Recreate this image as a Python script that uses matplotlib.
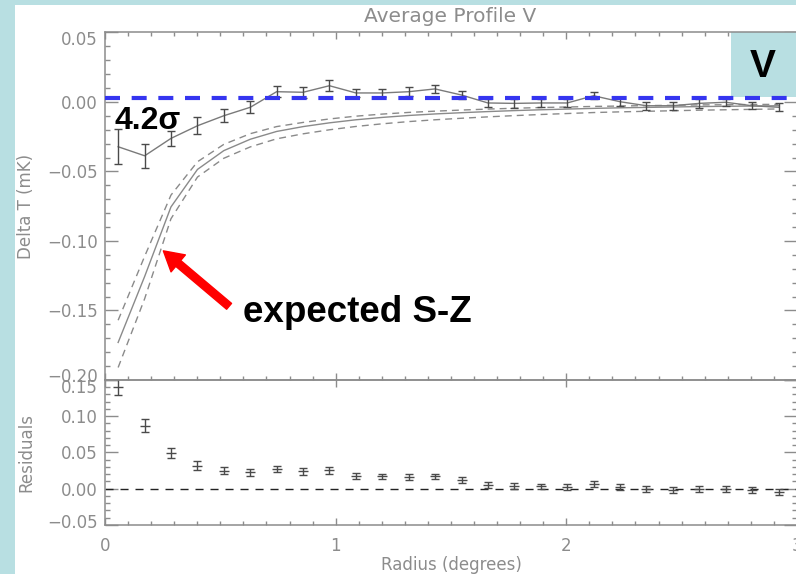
import matplotlib
matplotlib.use('Agg')
import matplotlib.pyplot as plt
import matplotlib.transforms as mtransforms
from matplotlib.patches import Rectangle
from matplotlib.ticker import MultipleLocator, FuncFormatter

# radial bins (degrees)
radius = [0.057, 0.172, 0.286, 0.401, 0.515, 0.630, 0.744, 0.859, 0.973, 1.088,
          1.202, 1.317, 1.431, 1.546, 1.660, 1.775, 1.889, 2.004, 2.118, 2.233,
          2.347, 2.462, 2.576, 2.691, 2.805, 2.920]

# stacked V-band profile (mK)
profile = [-0.0322, -0.0387, -0.0262, -0.0171, -0.0099, -0.0038, 0.0074, 0.0070,
           0.0117, 0.0065, 0.0065, 0.0074, 0.0094, 0.0050, -0.0007, -0.0010,
           -0.0007, -0.0007, 0.0045, 0.0002, -0.0027, -0.0027, -0.0010, -0.0002,
           -0.0027, -0.0038]
profile_err = [0.0126, 0.0087, 0.0054, 0.0060, 0.0048, 0.0044, 0.0040, 0.0038,
               0.0040, 0.0032, 0.0030, 0.0032, 0.0030, 0.0030, 0.0030, 0.0030,
               0.0030, 0.0030, 0.0025, 0.0030, 0.0030, 0.0030, 0.0030, 0.0025,
               0.0025, 0.0030]

# expected S-Z decrement and its envelope
sz_model = [-0.173, -0.1255, -0.0755, -0.0485, -0.0350, -0.0268, -0.0212, -0.0177,
            -0.0150, -0.0128, -0.0111, -0.0097, -0.0086, -0.0077, -0.0069, -0.0062,
            -0.0056, -0.0051, -0.0046, -0.0042, -0.0039, -0.0036, -0.0033, -0.0031,
            -0.0029, -0.0027]
sz_upper = [-0.157, -0.111, -0.067, -0.043, -0.0305, -0.0228, -0.0177, -0.0147,
            -0.0122, -0.0102, -0.0087, -0.0075, -0.0066, -0.0058, -0.0051, -0.0045,
            -0.0040, -0.0036, -0.0032, -0.0029, -0.0026, -0.0024, -0.0021, -0.0020,
            -0.0018, -0.0017]
sz_lower = [-0.191, -0.1415, -0.084, -0.054, -0.0405, -0.0323, -0.0265, -0.0229,
            -0.0200, -0.0176, -0.0157, -0.0141, -0.0128, -0.0117, -0.0107, -0.0098,
            -0.0090, -0.0083, -0.0076, -0.0071, -0.0067, -0.0063, -0.0059, -0.0056,
            -0.0053, -0.0050]

# residuals (profile - expected)
resid = [0.141, 0.0866, 0.0495, 0.032, 0.025, 0.0227, 0.0273, 0.024, 0.0255, 0.018,
         0.017, 0.016, 0.017, 0.0125, 0.0046, 0.0042, 0.0032, 0.0023, 0.0065, 0.0019,
         -0.0005, -0.0014, 0.0, 0.0, -0.0014, -0.0046]
resid_err = [0.012, 0.009, 0.0065, 0.006, 0.005, 0.005, 0.0045, 0.0045, 0.0045,
             0.004, 0.004, 0.004, 0.004, 0.004, 0.004, 0.004, 0.004, 0.004, 0.004,
             0.004, 0.004, 0.004, 0.004, 0.004, 0.004, 0.004]

zero_level = 0.003

GREY = '#8c8c8c'
DARK = '#4a4a4a'
CYAN = '#b8dfe2'

plt.rcParams['lines.scale_dashes'] = False
plt.rcParams['font.family'] = ['DejaVu Sans']

fig = plt.figure(figsize=(7.96, 5.74), dpi=100, facecolor=CYAN)
fig.add_artist(Rectangle((15 / 796, 0), 1, 1 - 5 / 574, transform=fig.transFigure,
                         facecolor='white', edgecolor='none', zorder=-1))

ax1 = fig.add_axes([0.1319, 0.338, 0.8693, 0.6054])
ax2 = fig.add_axes([0.1319, 0.0854, 0.8693, 0.2526])


def minus_fmt(v, pos):
    return f"{round(v, 2) + 0.0:.2f}".replace('-', '\u2212')


for ax in (ax1, ax2):
    ax.set_facecolor('none')
    ax.set_xlim(0, 3)
    ax.xaxis.set_major_locator(MultipleLocator(1))
    ax.xaxis.set_minor_locator(MultipleLocator(0.1))
    ax.yaxis.set_minor_locator(MultipleLocator(0.01))
    ax.yaxis.set_major_formatter(FuncFormatter(minus_fmt))
    for s in ax.spines.values():
        s.set_color(GREY)
        s.set_linewidth(1.1)
    ax.tick_params(which='both', direction='in', top=True, right=True,
                   color=GREY, labelcolor=GREY, labelsize=12, width=1)
    ax.tick_params(axis='y', which='major', length=9.5, pad=5)
    ax.tick_params(axis='y', which='minor', length=3.6)
    ax.tick_params(axis='x', which='major', length=5, pad=8.5)
    ax.tick_params(axis='x', which='minor', length=3)

# top panel
ax1.set_ylim(-0.20, 0.05)
ax1.set_yticks([-0.20, -0.15, -0.10, -0.05, 0.00, 0.05])
ax1.tick_params(labelbottom=False)

ax1.plot(radius, sz_model, color='#8a8a8a', lw=1)
ax1.plot(radius, sz_upper, color='#8a8a8a', lw=1, ls=(0, (5, 3.6)))
ax1.plot(radius, sz_lower, color='#8a8a8a', lw=1, ls=(0, (5, 3.6)))
ax1.plot(radius, profile, color='#7a7a7a', lw=1)
ax1.errorbar(radius, profile, yerr=profile_err, fmt='none', ecolor=DARK,
             elinewidth=1, capsize=3, capthick=1)

ax1.add_patch(Rectangle((0.9046, 0.813), 0.1, 0.187, transform=ax1.transAxes,
                        facecolor=CYAN, edgecolor='none', zorder=2.2))
ax1.axhline(zero_level, color='#3535f0', lw=3, ls=(0, (10.8, 8.4)), zorder=5)

bold = dict(family=['Liberation Sans', 'DejaVu Sans'], weight='bold', color='black')
ax1.text(0.043, -0.0195, '4.2\u03c3', fontsize=23, ha='left', va='baseline', **bold)
ax1.text(2.85, 0.0178, 'V', fontsize=28, ha='center', va='baseline', zorder=6, **bold)
ax1.text(0.599, -0.1585, 'expected S-Z', fontsize=26.5, ha='left', va='baseline', **bold)
ax1.annotate('', xy=(0.253, -0.1071), xytext=(0.538, -0.147),
             arrowprops=dict(arrowstyle='simple,head_width=1.6,head_length=1.4,tail_width=0.55',
                             color='red', shrinkA=0, shrinkB=0, mutation_scale=10))

ax1.set_ylabel('Delta T (mK)', color=GREY, fontsize=12)
ax1.yaxis.set_label_coords(-0.101, 0.5)

# residual panel
ax2.set_ylim(-0.05, 0.15)
ax2.set_yticks([-0.05, 0.00, 0.05, 0.10, 0.15])
ax2.xaxis.set_major_formatter(FuncFormatter(lambda v, pos: f"{v:.0f}"))
ax2.tick_params(axis='x', which='minor', top=False)
ax2.tick_params(axis='x', which='major', top=True)

ax2.axhline(0, color='#222222', lw=1, ls=(0, (5.8, 5)))
ax2.errorbar(radius, resid, yerr=resid_err, fmt='_', ms=7, mew=1, color=DARK,
             ecolor=DARK, elinewidth=1, capsize=3, capthick=1)

ax2.set_ylabel('Residuals', color=GREY, fontsize=12)
ax2.yaxis.set_label_coords(-0.101, 0.5)
ax2.set_xlabel('Radius (degrees)', color=GREY, fontsize=12)
ax2.xaxis.set_label_coords(0.5, -0.215)

fig.text(450 / 796, 1 - 16 / 574, 'Average Profile V', ha='center', va='center',
         color=GREY, fontsize=14.5)

# nudge the end labels of each y axis so neighbouring panels don't collide
fig.canvas.draw()
for ax, down_px, up_px in ((ax1, 6, 5), (ax2, 6, 4)):
    ticks = ax.yaxis.get_major_ticks()
    lo, hi = ticks[0].label1, ticks[-1].label1
    lo.set_transform(lo.get_transform() +
                     mtransforms.ScaledTranslation(0, up_px / 100, fig.dpi_scale_trans))
    hi.set_transform(hi.get_transform() +
                     mtransforms.ScaledTranslation(0, -down_px / 100, fig.dpi_scale_trans))

fig.savefig('out.png', dpi=100, facecolor=fig.get_facecolor())
